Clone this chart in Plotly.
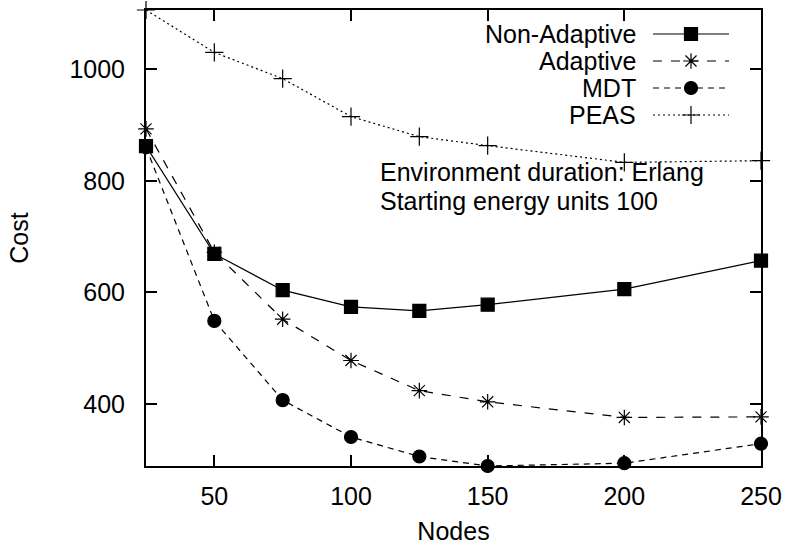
import plotly.graph_objects as go

nodes = [25, 50, 75, 100, 125, 150, 200, 250]
non_adaptive = [862, 669, 604, 574, 567, 578, 606, 657]
adaptive = [893, 672, 552, 478, 424, 404, 376, 377]
mdt = [860, 549, 407, 341, 306, 289, 294, 329]
peas = [1106, 1030, 983, 915, 879, 863, 833, 836]

series_names = ["Non-Adaptive", "Adaptive", "MDT", "PEAS"]
series_values = [non_adaptive, adaptive, mdt, peas]
dashes = ["solid", "dash", "6px,5px", "2px,3px"]
symbols = ["square", "asterisk-open", "circle", "cross-thin-open"]
msizes = [13, 13, 13, 13]

FONT = "Liberation Sans, Arial, sans-serif"
FS = 25
W, H = 789, 545
L, R, T, B = 146, 28, 10, 79
pw, ph = W - L - R, H - T - B

fig = go.Figure()
for name, vals, d, s, ms in zip(series_names, series_values, dashes, symbols, msizes):
    fig.add_trace(go.Scatter(
        x=nodes, y=vals, name=name, mode="lines+markers",
        line=dict(color="black", width=1.2, dash=d),
        marker=dict(symbol=s, size=ms, color="black",
                    line=dict(color="black", width=1.2)),
        cliponaxis=False, showlegend=False))

# gnuplot-style key: text on left, sample on right (overlay axes in paper-like units)
def px2x(px):
    return (px - L) / pw

def py2y(py):
    return (H - B - py) / ph

key_rows = [34, 61, 88, 115]
for name, d, s, ms, ry in zip(series_names, dashes, symbols, msizes, key_rows):
    yy = py2y(ry)
    fig.add_trace(go.Scatter(
        x=[px2x(653), px2x(729)], y=[yy, yy],
        xaxis="x2", yaxis="y2", mode="lines",
        line=dict(color="black", width=1.2, dash=d),
        showlegend=False, hoverinfo="skip"))
    fig.add_trace(go.Scatter(
        x=[px2x(691)], y=[yy],
        xaxis="x2", yaxis="y2", mode="markers",
        marker=dict(symbol=s, size=ms, color="black",
                    line=dict(color="black", width=1.2)),
        showlegend=False, hoverinfo="skip"))
    fig.add_annotation(x=px2x(638), y=yy, xref="x2", yref="y2", text=name,
                       showarrow=False, xanchor="right", yanchor="middle",
                       font=dict(family=FONT, size=FS, color="black"))

fig.add_annotation(x=px2x(378), y=py2y(172), xref="x2", yref="y2",
                   text="Environment duration: Erlang", showarrow=False,
                   xanchor="left", yanchor="middle",
                   font=dict(family=FONT, size=FS, color="black"))
fig.add_annotation(x=px2x(378), y=py2y(201), xref="x2", yref="y2",
                   text="Starting energy units 100", showarrow=False,
                   xanchor="left", yanchor="middle",
                   font=dict(family=FONT, size=FS, color="black"))

axis_common = dict(showline=True, linewidth=2, linecolor="black", mirror="ticks",
                   ticks="inside", ticklen=11, tickwidth=2, tickcolor="black",
                   showgrid=False, zeroline=False, automargin=False,
                   tickfont=dict(family=FONT, size=FS, color="black"))

fig.update_layout(
    width=W, height=H,
    margin=dict(l=L, r=R, t=T, b=B),
    paper_bgcolor="white", plot_bgcolor="white",
    font=dict(family=FONT, size=FS, color="black"),
    xaxis=dict(range=[25, 250], tickvals=[50, 100, 150, 200, 250],
               title=dict(text="Nodes", font=dict(family=FONT, size=FS), standoff=14),
               ticklabelstandoff=7, **axis_common),
    yaxis=dict(range=[289, 1106], tickvals=[400, 600, 800, 1000],
               title=dict(text="Cost", font=dict(family=FONT, size=FS), standoff=34),
               ticklabelstandoff=14, **axis_common),
    xaxis2=dict(range=[0, 1], overlaying="x", anchor="y2", visible=False),
    yaxis2=dict(range=[0, 1], overlaying="y", anchor="x2", visible=False),
    showlegend=False,
)

fig.write_html("out.html")
